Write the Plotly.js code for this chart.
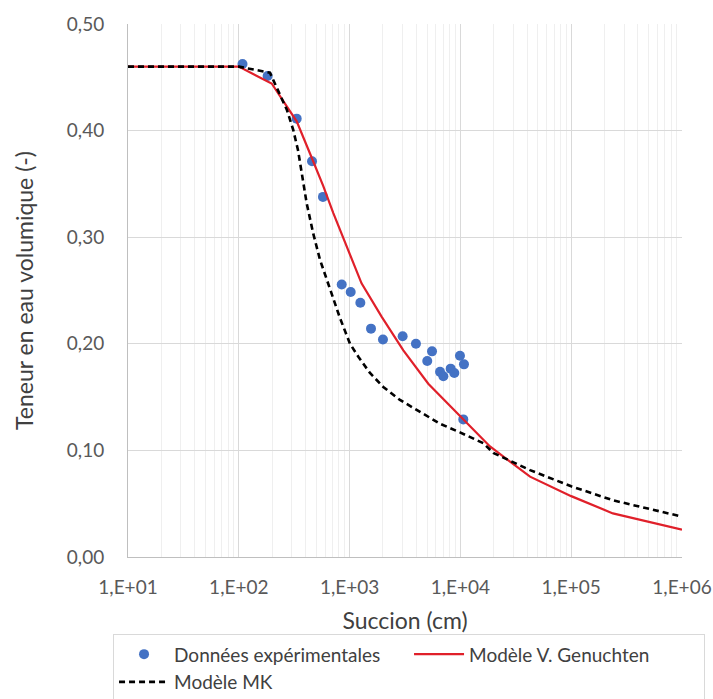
<!DOCTYPE html>
<html>
<head>
<meta charset="utf-8">
<script src="https://cdn.plot.ly/plotly-3.0.1.min.js"></script>
<style>html,body{margin:0;padding:0;background:#fff;}#chart{width:713px;height:699px;}</style>
</head>
<body>
<div id="chart"></div>
<script>
// Experimental data: suction (cm) and volumetric water content (-)
const expSuction = [108, 182, 333, 458, 575, 849, 1023, 1250, 1560, 2000, 3010, 3970, 5545, 5020, 6550, 7020, 8170, 8810, 9910, 10770, 10620];
const expTheta   = [0.4624, 0.4512, 0.4112, 0.3712, 0.3378, 0.2557, 0.2486, 0.2385, 0.2142, 0.2040, 0.2071, 0.2000, 0.1929, 0.1838, 0.1737, 0.1696, 0.1767, 0.1726, 0.1888, 0.1807, 0.1291];

// Van Genuchten model curve
const vgSuction = [10, 100, 198, 270, 333, 440, 579, 713, 942, 1282, 1950, 3055, 5130, 9910, 18500, 42500, 100000, 238000, 1000000];
const vgTheta   = [0.46, 0.46, 0.4442, 0.4229, 0.4087, 0.3783, 0.3479, 0.3226, 0.2912, 0.2567, 0.2253, 0.1939, 0.1625, 0.1321, 0.1037, 0.0754, 0.0571, 0.0409, 0.0257];

// MK model curve
const mkSuction = [10, 100, 191, 226, 272, 310, 342, 410, 470, 540, 665, 818, 1009, 1200, 1528, 2015, 2850, 4030, 6550, 9910, 16100, 19800, 42500, 100000, 240000, 1000000];
const mkTheta   = [0.46, 0.46, 0.4543, 0.4381, 0.4193, 0.4006, 0.3818, 0.3317, 0.3033, 0.2790, 0.2506, 0.2243, 0.2000, 0.1878, 0.1726, 0.1595, 0.1473, 0.1382, 0.1250, 0.1169, 0.1068, 0.0977, 0.0815, 0.0663, 0.0531, 0.0379];

const xTickVals = [10, 100, 1000, 10000, 100000, 1000000];
const xTickText = ['1,E+01', '1,E+02', '1,E+03', '1,E+04', '1,E+05', '1,E+06'];
const seriesNames = ['Données expérimentales', 'Modèle V. Genuchten', 'Modèle MK'];

const FONT = 'Lato, "Open Sans", sans-serif';

const traces = [
  {
    x: expSuction, y: expTheta, type: 'scatter', mode: 'markers', name: seriesNames[0],
    marker: {color: '#4472C4', size: 10}
  },
  {
    x: vgSuction, y: vgTheta, type: 'scatter', mode: 'lines', name: seriesNames[1],
    line: {color: '#E0202A', width: 2.2}
  },
  {
    x: mkSuction, y: mkTheta, type: 'scatter', mode: 'lines', name: seriesNames[2],
    line: {color: '#000000', width: 2.6, dash: '6px,4px'}
  }
];

const layout = {
  width: 713, height: 699,
  margin: {l: 128, r: 31, t: 24, b: 142, autoexpand: false},
  paper_bgcolor: '#ffffff', plot_bgcolor: '#ffffff',
  separators: ', ',
  font: {family: FONT, color: '#595959', size: 19},
  showlegend: true,
  xaxis: {
    type: 'log', range: [1, 6],
    tickvals: xTickVals, ticktext: xTickText,
    showgrid: true, gridcolor: '#d9d9d9', gridwidth: 1,
    minor: {dtick: 'D1', showgrid: true, gridcolor: '#efefef', gridwidth: 1, ticks: ''},
    showline: true, linecolor: '#bfbfbf', linewidth: 1,
    ticks: '', ticklabelstandoff: 13,
    zeroline: false,
    tickfont: {family: FONT, size: 19, color: '#595959'},
    title: {text: 'Succion (cm)', font: {family: FONT, size: 23, color: '#404040'}, standoff: 16},
    automargin: false
  },
  yaxis: {
    range: [0, 0.5], dtick: 0.1, tick0: 0, tickformat: '.2f',
    showgrid: true, gridcolor: '#d9d9d9', gridwidth: 1,
    showline: true, linecolor: '#bfbfbf', linewidth: 1,
    ticks: '', ticklabelstandoff: 19,
    zeroline: false,
    tickfont: {family: FONT, size: 19, color: '#595959'},
    title: {text: 'Teneur en eau volumique (-)', font: {family: FONT, size: 23, color: '#404040'}, standoff: 26},
    automargin: false
  },
  legend: {
    orientation: 'h',
    x: -0.027, xanchor: 'left',
    y: -0.145, yanchor: 'top',
    bgcolor: '#ffffff', bordercolor: '#d9d9d9', borderwidth: 1,
    font: {family: FONT, size: 19, color: '#404040'},
    itemwidth: 50,
    entrywidth: 230, entrywidthmode: 'pixels',
    traceorder: 'normal'
  }
};

Plotly.newPlot('chart', traces, layout, {displayModeBar: false, staticPlot: true});
</script>
</body>
</html>
